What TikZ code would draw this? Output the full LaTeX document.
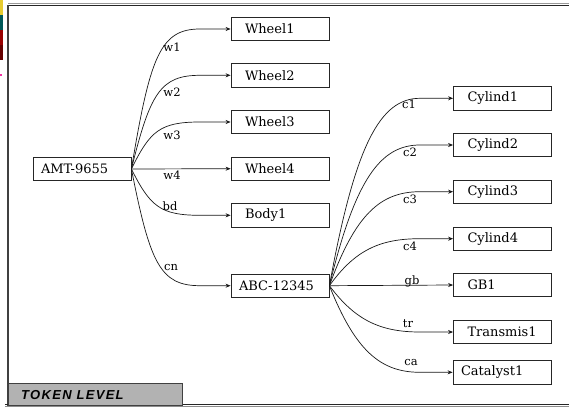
\documentclass[tikz,border=0pt]{standalone}
\usepackage{fontspec}
\setmainfont{DejaVu Serif}
\newfontfamily\tagfont[LetterSpace=10]{Liberation Sans}
\usetikzlibrary{arrows.meta}

\begin{document}
\begin{tikzpicture}[x=1pt,y=-1pt,
  objbox/.style={draw=black!85, line width=0.8pt, minimum height=23.5pt,
    inner ysep=0pt, align=left, font=\fontsize{13}{15}\selectfont},
  indA/.style={inner xsep=14pt, text width=70pt},
  indB/.style={inner xsep=8pt, text width=82pt},
  edge/.style={draw=black!90, line width=0.7pt,
    -{Stealth[length=5pt,width=4pt]}},
  elabel/.style={inner sep=0pt, font=\fontsize{11.5}{13}\selectfont}]

% page area
\useasboundingbox (0,0) rectangle (569,409);
\fill[white] (0,0) rectangle (569,409);

% sliver of a neighbouring window at the left edge
\fill[yellow!60!brown] (0,0) rectangle (3,15);
\fill[teal!70!black] (0,15) rectangle (3,30);
\fill[red!60!black] (0,30) rectangle (3,45);
\fill[red!40!black] (0,45) rectangle (3,60);
\fill[magenta!80] (0,74) rectangle (2,76);

% window frame
\draw[black!40, line width=1pt] (8,4) -- (569,4);
\draw[black!85, line width=1.4pt] (8,5.6) -- (569,5.6);
\draw[black!75, line width=2pt] (8.3,5) -- (8.3,406);
\draw[black!85, line width=1.5pt] (5,404.5) -- (569,404.5);
\draw[black!45, line width=1pt] (5,406.6) -- (569,406.6);

% level tab
\draw[black!75, fill=black!30, line width=1pt] (8.3,383.5) rectangle (182,405);
\node[anchor=west, inner sep=0pt,
      font=\tagfont\bfseries\itshape\fontsize{13}{15}\selectfont]
  (tag) at (21,395) {TOKEN LEVEL};

% objects
\node[objbox, indB] (amt) at (82,169) {AMT-9655};
\node[objbox, indA] (w1) at (280,29) {Wheel1};
\node[objbox, indA] (w2) at (280,75.3) {Wheel2};
\node[objbox, indA] (w3) at (280,122) {Wheel3};
\node[objbox, indA] (w4) at (280,168.7) {Wheel4};
\node[objbox, indA] (bd) at (280,215.3) {Body1};
\node[objbox, indB] (abc) at (280,285.7) {ABC-12345};

\node[objbox, indA] (c1) at (502.5,98.3) {Cylind1};
\node[objbox, indA] (c2) at (502.5,145) {Cylind2};
\node[objbox, indA] (c3) at (502.5,191.7) {Cylind3};
\node[objbox, indA] (c4) at (502.5,238.7) {Cylind4};
\node[objbox, indA] (gb) at (502.5,285) {GB1};
\node[objbox, indA] (tr) at (502.5,332) {Transmis1};
\node[objbox, indB] (ca) at (502,372.3) {Catalyst1};

% links from AMT-9655
\draw[edge] (amt.east) .. controls (150,57) and (160,29) .. (200,29) -- (w1.west);
\draw[edge] (amt.east) .. controls (150,94) and (160,75.3) .. (200,75.3) -- (w2.west);
\draw[edge] (amt.east) .. controls (150,131) and (160,122) .. (200,122) -- (w3.west);
\draw[edge] (amt.east) -- (w4.west);
\draw[edge] (amt.east) .. controls (150,206) and (160,215.3) .. (200,215.3) -- (bd.west);
\draw[edge] (amt.east) .. controls (150,263) and (160,285.7) .. (200,285.7) -- (abc.west);

\node[elabel] (lw1) at (172,47) {w1};
\node[elabel] (lw2) at (172,92) {w2};
\node[elabel] (lw3) at (172,135) {w3};
\node[elabel] (lw4) at (172,175.5) {w4};
\node[elabel] (lbd) at (170,206) {bd};
\node[elabel] (lcn) at (171,268) {cn};

% links from ABC-12345
\draw[edge] (abc.east) .. controls (355,145) and (380,98.3) .. (420,98.3) -- (c1.west);
\draw[edge] (abc.east) .. controls (355,180) and (380,145) .. (420,145) -- (c2.west);
\draw[edge] (abc.east) .. controls (355,215) and (380,191.7) .. (420,191.7) -- (c3.west);
\draw[edge] (abc.east) .. controls (355,250) and (380,238.7) .. (420,238.7) -- (c4.west);
\draw[edge] (abc.east) -- (gb.west);
\draw[edge] (abc.east) .. controls (355,320) and (380,332) .. (420,332) -- (tr.west);
\draw[edge] (abc.east) .. controls (355,350) and (380,372.3) .. (420,372.3) -- (ca.west);

\node[elabel] (lc1) at (409,104) {c1};
\node[elabel] (lc2) at (410,152) {c2};
\node[elabel] (lc3) at (410,199) {c3};
\node[elabel] (lc4) at (410,246) {c4};
\node[elabel] (lgb) at (412,281) {gb};
\node[elabel] (ltr) at (408,324) {tr};
\node[elabel] (lca) at (411,363) {ca};
\end{tikzpicture}
\end{document}
